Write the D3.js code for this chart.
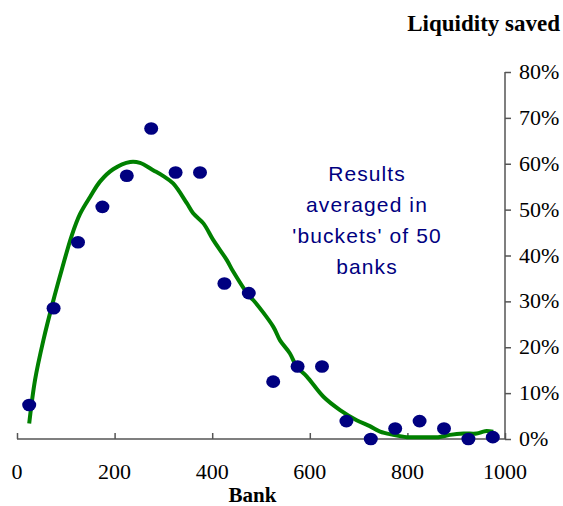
<!DOCTYPE html>
<html>
<head>
<meta charset="utf-8">
<script src="https://cdn.jsdelivr.net/npm/d3@7"></script>
<style>
  html, body { margin: 0; padding: 0; background: #fff; }
  svg { display: block; }
</style>
</head>
<body>
<svg id="chart" width="563" height="506"></svg>
<script>
// Bucket centers (bank rank) and average liquidity saved (%)
const bucketBanks = [25, 75, 125, 175, 225, 275, 325, 375, 425, 475, 525, 575, 625, 675, 725, 775, 825, 875, 925, 975];
const bucketSaved = [7.4, 28.5, 42.9, 50.6, 57.4, 67.7, 58.1, 58.1, 33.9, 31.8, 12.5, 15.8, 15.8, 3.9, 0.0, 2.3, 3.9, 2.3, 0.0, 0.4];

// Smoothed trend line
const trendBanks = [25, 37, 54, 74, 92, 112, 129, 150, 170, 197, 232, 252, 279, 300, 320, 348, 361, 382, 402, 430, 443, 477, 484, 525, 539, 559, 573, 594, 628, 662, 696, 723, 744, 771, 799, 833, 863, 887, 915, 942, 959, 976];
const trendSaved = [3.4, 12.9, 21.5, 30.0, 37.0, 44.3, 49.0, 52.8, 56.1, 58.8, 60.4, 60.2, 58.6, 57.3, 55.7, 51.4, 49.2, 47.0, 43.4, 39.0, 36.5, 31.0, 30.3, 24.5, 21.5, 18.7, 15.8, 13.6, 9.2, 6.3, 4.1, 2.8, 1.6, 0.9, 0.4, 0.4, 0.4, 0.9, 1.2, 1.2, 1.7, 1.6];

const xTicks = [0, 200, 400, 600, 800, 1000];
const yTicks = [0, 10, 20, 30, 40, 50, 60, 70, 80];

const yTitle = "Liquidity saved";
const xTitle = "Bank";
const noteLines = ["Results", "averaged in", "'buckets' of 50", "banks"];

const svg = d3.select("#chart");
const x = d3.scaleLinear().domain([0, 1000]).range([17, 505]);
const y = d3.scaleLinear().domain([0, 80]).range([439, 72]);

const axisColor = "#555";
const serif = "'Liberation Serif', 'Times New Roman', serif";

// X axis (ticks inside, pointing up)
const gx = svg.append("g").attr("transform", `translate(0,${y(0)})`)
  .call(d3.axisTop(x).tickValues(xTicks).tickSize(6).tickSizeOuter(0).tickFormat(""));
gx.selectAll("path, line").attr("stroke", axisColor).attr("stroke-width", 1.5);
gx.select(".domain").attr("d", `M${x(0)},0H${x(1000)}`);

svg.append("g").selectAll("text").data(xTicks).join("text")
  .attr("x", d => x(d)).attr("y", 479)
  .attr("text-anchor", "middle")
  .attr("font-family", serif).attr("font-size", 22).attr("fill", "#000")
  .text(d => d);

// Y axis on right
const gy = svg.append("g").attr("transform", `translate(${x(1000)},0)`)
  .call(d3.axisRight(y).tickValues(yTicks).tickSize(6).tickSizeOuter(0).tickFormat(""));
gy.selectAll("path, line").attr("stroke", axisColor).attr("stroke-width", 1.5);
gy.select(".domain").attr("d", `M0,${y(0)}V${y(80)}`);

svg.append("g").selectAll("text").data(yTicks).join("text")
  .attr("x", 519).attr("y", d => y(d) + 7)
  .attr("font-family", serif).attr("font-size", 22).attr("fill", "#000")
  .text(d => d + "%");

// Titles
svg.append("text").attr("x", 560).attr("y", 31).attr("text-anchor", "end")
  .attr("font-family", serif).attr("font-weight", "bold").attr("font-size", 23)
  .text(yTitle);
svg.append("text").attr("x", 252.5).attr("y", 502).attr("text-anchor", "middle")
  .attr("font-family", serif).attr("font-weight", "bold").attr("font-size", 21)
  .text(xTitle);

// Trend line
const line = d3.line()
  .x((d, i) => x(trendBanks[i]))
  .y((d, i) => y(trendSaved[i]))
  .curve(d3.curveCatmullRom.alpha(0.5));
svg.append("path").datum(trendSaved)
  .attr("d", line)
  .attr("fill", "none").attr("stroke", "#008000").attr("stroke-width", 4)
  .attr("stroke-linejoin", "round").attr("stroke-linecap", "butt");

// Points
svg.append("g").selectAll("ellipse").data(bucketSaved).join("ellipse")
  .attr("cx", (d, i) => x(bucketBanks[i]))
  .attr("cy", d => y(d))
  .attr("rx", 7).attr("ry", 6.3)
  .attr("fill", "#000080");

// Annotation
svg.append("g").selectAll("text").data(noteLines).join("text")
  .attr("x", 367).attr("y", (d, i) => 181 + i * 31)
  .attr("text-anchor", "middle")
  .attr("font-family", "'Liberation Sans', Arial, sans-serif")
  .attr("font-size", 21).attr("letter-spacing", "1.1px")
  .attr("fill", "#000080")
  .text(d => d);
</script>
</body>
</html>
